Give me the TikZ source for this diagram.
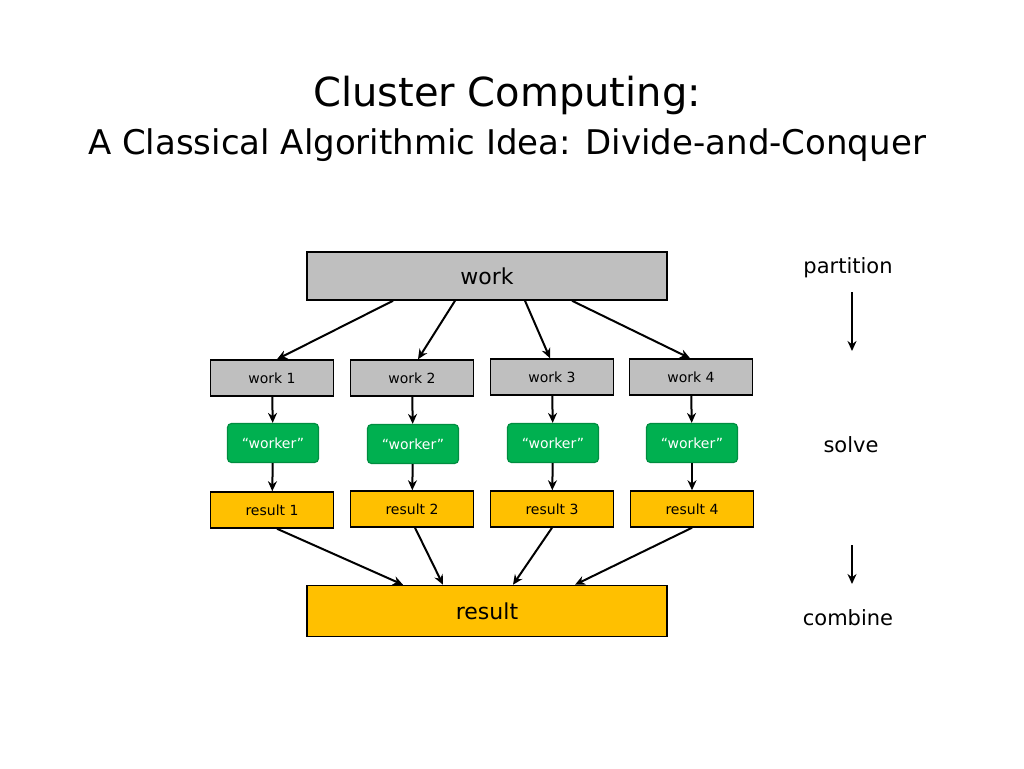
\documentclass[tikz,border=0pt]{standalone}
\usepackage{fontspec}
\setmainfont{DejaVu Sans}
\usetikzlibrary{arrows.meta}
\definecolor{boxgray}{RGB}{191,191,191}
\definecolor{workergreen}{RGB}{0,176,80}
\definecolor{resultyellow}{RGB}{255,192,0}
\tikzset{
  box/.style={draw=black,line width=1.5pt,minimum height=36pt,inner sep=0pt},
  small/.style={box,minimum width=123pt,font=\fontsize{14}{16}\selectfont},
  worker/.style={draw=workergreen!80!black,line width=1.2pt,fill=workergreen,rounded corners=4pt,minimum width=91pt,minimum height=39pt,text=white,font=\fontsize{14}{16}\selectfont},
  arr/.style={-{Stealth[length=10pt,width=9pt]},line width=2pt},
  side/.style={font=\fontsize{21}{24}\selectfont}
}
\begin{document}
\begin{tikzpicture}[x=1pt,y=-1pt]
\useasboundingbox (0,0) rectangle (1024,768);
\node[font=\fontsize{40}{44}\selectfont] (title) at (507,95) {Cluster Computing:};
\node[font=\fontsize{34}{38}\selectfont] (subtitle) at (507,145) {A Classical Algorithmic Idea: Divide-and-Conquer};

\node[box,fill=boxgray,minimum width=360pt,minimum height=48pt,font=\fontsize{22}{24}\selectfont] (work) at (487,276) {work};
\node[small,fill=boxgray] (w1) at (272,378) {work 1};
\node[small,fill=boxgray] (w2) at (412,378) {work 2};
\node[small,fill=boxgray] (w3) at (552,377) {work 3};
\node[small,fill=boxgray] (w4) at (691,377) {work 4};

\node[worker] (k1) at (273,443) {``worker''};
\node[worker] (k2) at (413,444) {``worker''};
\node[worker] (k3) at (553,443) {``worker''};
\node[worker] (k4) at (692,443) {``worker''};

\node[small,fill=resultyellow] (r1) at (272,510) {result 1};
\node[small,fill=resultyellow] (r2) at (412,509) {result 2};
\node[small,fill=resultyellow] (r3) at (552,509) {result 3};
\node[small,fill=resultyellow] (r4) at (692,509) {result 4};

\node[box,fill=resultyellow,minimum width=360pt,minimum height=51pt,font=\fontsize{22}{24}\selectfont] (result) at (487,611) {result};

% partition
\draw[arr] (work.south -| 393,0) -- (w1.north -| 277,0);
\draw[arr] (work.south -| 455,0) -- (w2.north -| 418,0);
\draw[arr] (work.south -| 525,0) -- (w3.north -| 550,0);
\draw[arr] (work.south -| 572,0) -- (w4.north -| 690,0);

% solve
\foreach \i in {1,...,4}{
  \draw[arr] (w\i) -- (k\i);
  \draw[arr] (k\i) -- (r\i);
}

% combine
\draw[arr] (r1.south -| 277,0) -- (result.north -| 403,0);
\draw[arr] (r2.south -| 415,0) -- (result.north -| 443,0);
\draw[arr] (r3.south -| 552,0) -- (result.north -| 513,0);
\draw[arr] (r4.south -| 692,0) -- (result.north -| 575,0);

\node[side] (partition) at (848,268) {partition};
\node[side] (solve) at (851,445) {solve};
\node[side] (combine) at (848,618) {combine};
\coordinate (p1) at (852,292);
\coordinate (p2) at (852,351);
\coordinate (c1) at (852,545);
\coordinate (c2) at (852,584);
\draw[arr] (p1) -- (p2);
\draw[arr] (c1) -- (c2);
\end{tikzpicture}
\end{document}
